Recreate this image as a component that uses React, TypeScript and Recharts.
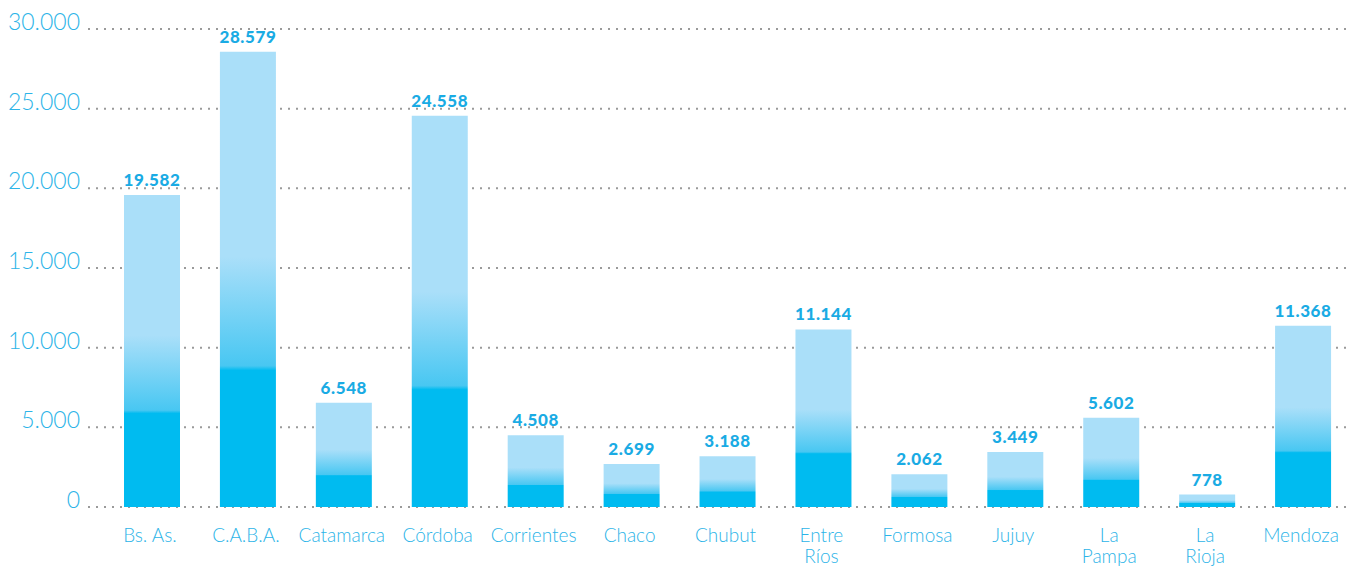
import React from 'react';
import { BarChart, Bar, XAxis, YAxis, CartesianGrid, LabelList } from 'recharts';

// provinces and counts
const provinces = [
  'Bs. As.',
  'C.A.B.A.',
  'Catamarca',
  'Córdoba',
  'Corrientes',
  'Chaco',
  'Chubut',
  'Entre Ríos',
  'Formosa',
  'Jujuy',
  'La Pampa',
  'La Rioja',
  'Mendoza',
];
const tickLabels = [
  ['Bs. As.'],
  ['C.A.B.A.'],
  ['Catamarca'],
  ['Córdoba'],
  ['Corrientes'],
  ['Chaco'],
  ['Chubut'],
  ['Entre', 'Ríos'],
  ['Formosa'],
  ['Jujuy'],
  ['La', 'Pampa'],
  ['La', 'Rioja'],
  ['Mendoza'],
];
const counts = [19582, 28579, 6548, 24558, 4508, 2699, 3188, 11144, 2062, 3449, 5602, 778, 11368];
const yTicks = [0, 5000, 10000, 15000, 20000, 25000, 30000];

const data = provinces.map((name, i) => ({ name, value: counts[i] }));

const BLUE = '#00bbf0';
const LIGHT = '#aadff9';
const TEXT = '#2cb4e8';
const FONT = 'Lato, "Open Sans", sans-serif';

// 19582 -> "19.582"
const fmt = (v: number) => String(v).replace(/\B(?=(\d{3})+(?!\d))/g, '.');

function YTick({ x, y, payload }: any) {
  return (
    <text x={x} y={y + 1} textAnchor="end" fill={TEXT} fontSize={23} fontWeight={300} fontFamily={FONT}>
      {fmt(payload.value)}
    </text>
  );
}

function XTick({ x, y, payload }: any) {
  const lines = tickLabels[payload.index] || [payload.value];
  return (
    <text x={x} y={y} textAnchor="middle" fill={TEXT} fontSize={19} fontWeight={300} fontFamily={FONT}>
      {lines.map((l, i) => (
        <tspan key={i} x={x - 2} y={y + 27 + i * 21}>
          {l}
        </tspan>
      ))}
    </text>
  );
}

export default function App() {
  return (
    <div style={{ position: 'absolute', left: 0, top: 0, background: '#fff' }}>
      <BarChart
        width={1365}
        height={569}
        data={data}
        margin={{ top: 29, right: 14, bottom: 0, left: 0 }}
        barCategoryGap={40}
      >
        <defs>
          <linearGradient id="barFill" x1="0" y1="0" x2="0" y2="1">
            <stop offset="0" stopColor={LIGHT} />
            <stop offset="0.45" stopColor={LIGHT} />
            <stop offset="0.69" stopColor="#48c7f2" />
            <stop offset="0.70" stopColor={BLUE} />
            <stop offset="1" stopColor={BLUE} />
          </linearGradient>
        </defs>
        <CartesianGrid
          vertical={false}
          stroke="#9a9a9a"
          strokeWidth={2}
          strokeDasharray="2 6"
        />
        <XAxis
          dataKey="name"
          axisLine={false}
          tickLine={false}
          interval={0}
          height={62}
          padding={{ left: 16, right: 0 }}
          tick={<XTick />}
        />
        <YAxis
          domain={[0, 30000]}
          ticks={yTicks}
          width={88}
          axisLine={false}
          tickLine={false}
          tickSize={0}
          tickMargin={8}
          tick={<YTick />}
        />
        <Bar dataKey="value" fill="url(#barFill)" barSize={56} isAnimationActive={false}>
          <LabelList
            dataKey="value"
            position="top"
            offset={9}
            formatter={(v: any) => fmt(v)}
            fill="#1aabe4"
            fontSize={17}
            fontWeight={900}
            letterSpacing={0.6}
            fontFamily={FONT}
          />
        </Bar>
      </BarChart>
    </div>
  );
}
